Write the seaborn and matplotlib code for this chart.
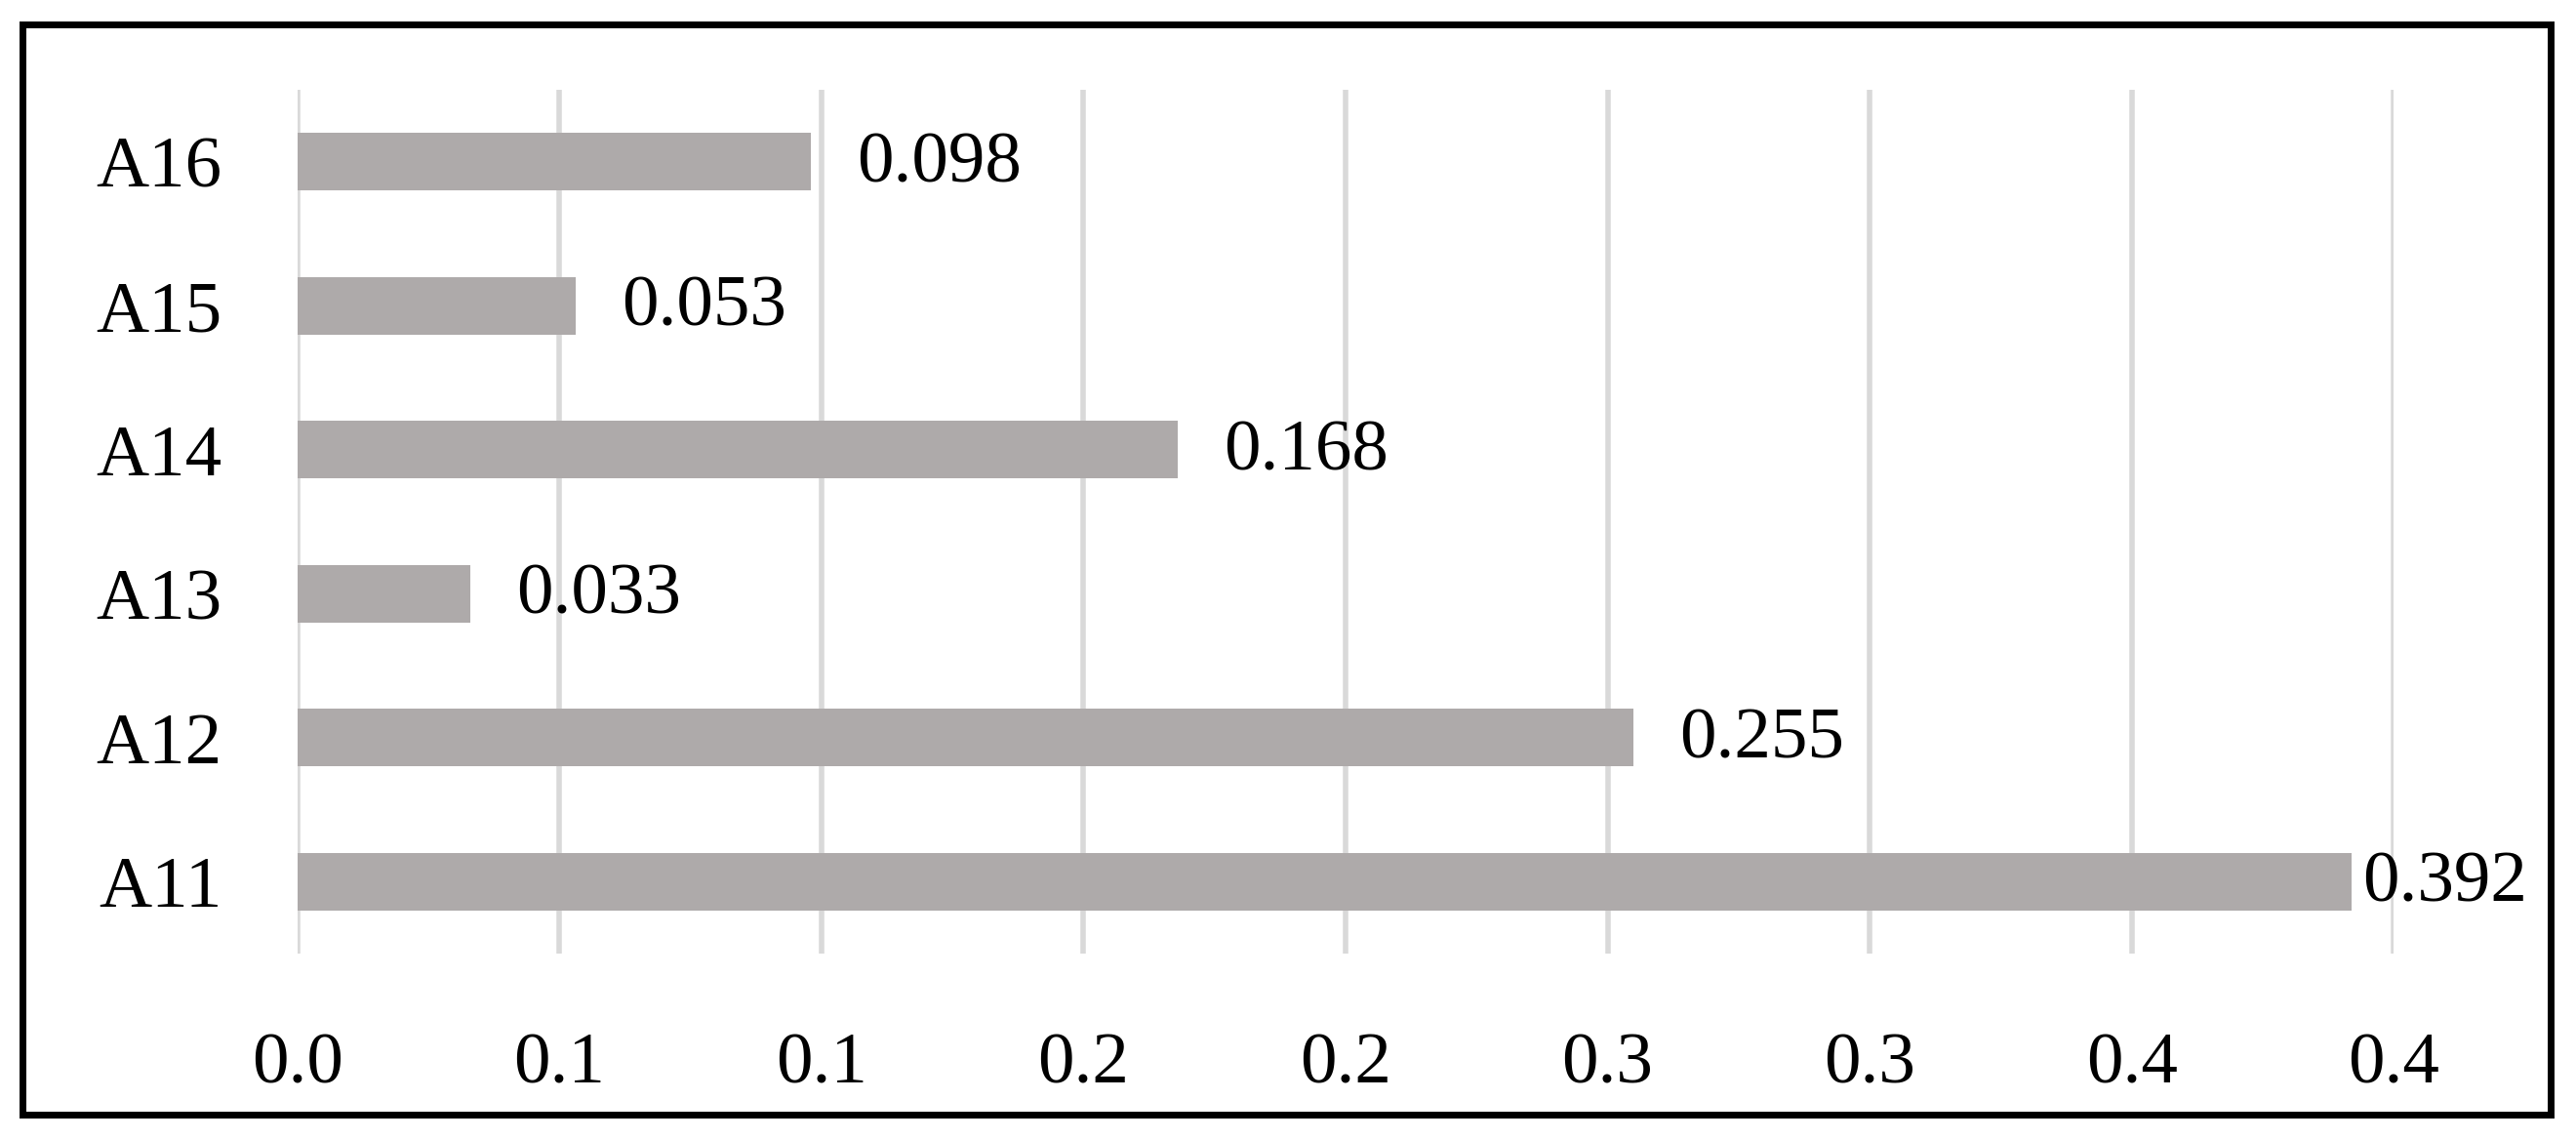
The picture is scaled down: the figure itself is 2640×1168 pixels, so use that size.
import matplotlib
matplotlib.use("Agg")
import matplotlib.pyplot as plt
from matplotlib.patches import Rectangle
import pandas as pd
import seaborn as sns

# 数据
categories = ["A11", "A12", "A13", "A14", "A15", "A16"]
values = [0.392, 0.255, 0.033, 0.168, 0.053, 0.098]
value_labels = ["0.392", "0.255", "0.033", "0.168", "0.053", "0.098"]
xtick_values = [0.0, 0.05, 0.10, 0.15, 0.20, 0.25, 0.30, 0.35, 0.40]
xtick_labels = ["0.0", "0.1", "0.1", "0.2", "0.2", "0.3", "0.3", "0.4", "0.4"]

df = pd.DataFrame({"item": categories, "value": values, "label": value_labels})

sns.set_style("white")
plt.rcParams["font.family"] = ["Liberation Serif", "DejaVu Serif"]
plt.rcParams["text.color"] = "black"
plt.rcParams["xtick.color"] = "black"
plt.rcParams["ytick.color"] = "black"

DPI = 200
fig = plt.figure(figsize=(2640 / DPI, 1168 / DPI), dpi=DPI)
ax = fig.add_axes([0.1155, 0.1635, 0.8137, 0.7577])

order = categories[::-1]  # A16 在最上面
sns.barplot(data=df, x="value", y="item", order=order, orient="h",
            color="#AEAAAA", width=0.4, saturation=1, ax=ax, zorder=2,
            edgecolor="none", linewidth=0)

ax.set_xlim(0, 0.4)
ax.set_xticks(xtick_values)
ax.set_xticklabels(xtick_labels)
ax.tick_params(axis="both", length=0, labelsize=27, labelcolor="black")
ax.tick_params(axis="x", pad=29)
ax.tick_params(axis="y", pad=28)
ax.set_xlabel("")
ax.set_ylabel("")
for sp in ax.spines.values():
    sp.set_visible(False)

ax.xaxis.grid(True, color="#D9D9D9", linewidth=2.0, zorder=0)
ax.yaxis.grid(False)
ax.set_axisbelow(True)

# 数值标签：放在条形右侧，超出右边界则左移
fig.canvas.draw()
renderer = fig.canvas.get_renderer()
right_limit = 2590
for i, item in enumerate(order):
    row = df[df["item"] == item].iloc[0]
    t = ax.annotate(row["label"], xy=(row["value"], i), xytext=(17, -1),
                    textcoords="offset points", ha="left", va="center",
                    fontsize=27, color="black", annotation_clip=False)
    bb = t.get_window_extent(renderer)
    if bb.x1 > right_limit:
        shift = (bb.x1 - right_limit) * 72 / DPI
        t.set_position((max(17 - shift, 1.5), -1))

# 外框
fig.patches.append(Rectangle((23 / 2640, 26 / 1168), (2614 - 23) / 2640,
                             (1142 - 25) / 1168, transform=fig.transFigure,
                             fill=False, edgecolor="black", linewidth=2.5))

fig.savefig("out.png", dpi=DPI, facecolor="white")
